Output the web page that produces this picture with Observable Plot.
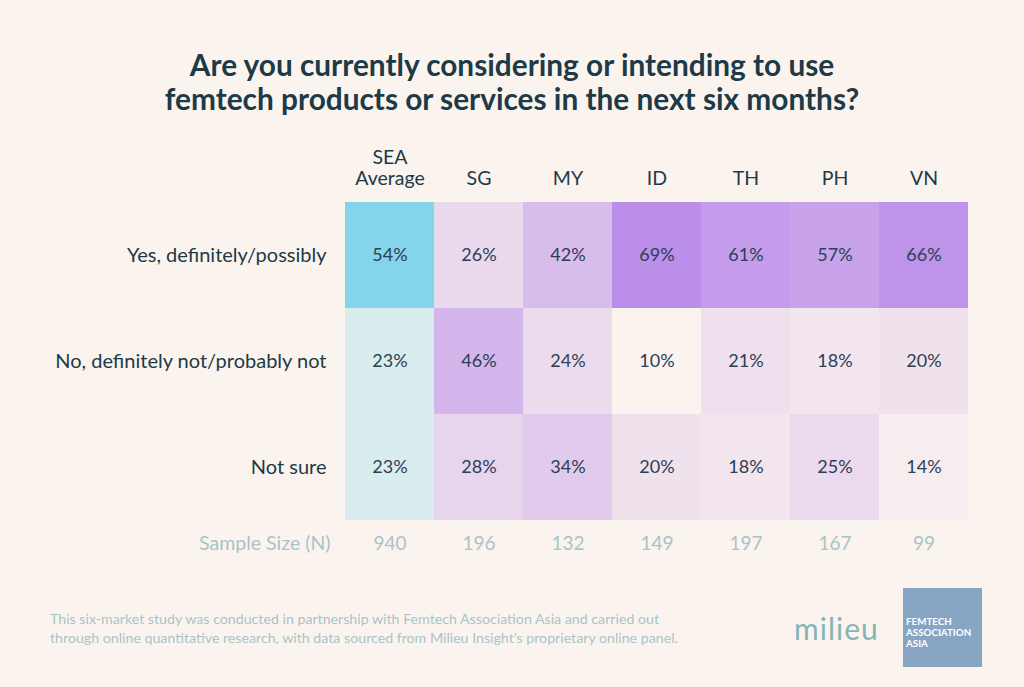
<!DOCTYPE html>
<html>
<head>
<meta charset="utf-8">
<script src="https://cdn.jsdelivr.net/npm/d3@7"></script>
<script src="https://cdn.jsdelivr.net/npm/@observablehq/plot@0.6"></script>
<style>
  html, body { margin: 0; padding: 0; background: #fbf4ee; }
  body { width: 1024px; height: 687px; position: relative; overflow: hidden; font-family: Lato, "Open Sans", sans-serif; }
  #title { position: absolute; top: 48px; left: 0; width: 1024px; text-align: center; font-weight: 700; font-size: 29.8px; line-height: 34px; color: #1d3a48; }
  #chart { position: absolute; top: 130px; left: 0; }
  #note { position: absolute; left: 50px; top: 610px; font-size: 14.2px; line-height: 18.5px; color: #a9c4c6; }
  #milieu { position: absolute; left: 794px; top: 610px; font-size: 30px; font-weight: 400; color: #86b4b6; letter-spacing: 1px; font-family: Lato, sans-serif; }
  #fa { position: absolute; left: 903px; top: 588px; width: 79px; height: 79px; background: #87a5c3; }
  #fa div { position: absolute; left: 3px; top: 28px; color: #ffffff; font-weight: 700; font-size: 9.8px; line-height: 11px; }
</style>
</head>
<body>
<div id="title">Are you currently considering or intending to use<br>femtech products or services in the next six months?</div>
<div id="chart"></div>
<div id="note">This six-market study was conducted in partnership with Femtech Association Asia and carried out<br>through online quantitative research, with data sourced from Milieu Insight’s proprietary online panel.</div>
<div id="milieu">milieu</div>
<div id="fa"><div>FEMTECH<br>ASSOCIATION<br>ASIA</div></div>
<script>
const markets = ["SEA", "SG", "MY", "ID", "TH", "PH", "VN"];
const marketLabels = ["SEA\nAverage", "SG", "MY", "ID", "TH", "PH", "VN"];
const responses = ["Yes, definitely/possibly", "No, definitely not/probably not", "Not sure"];
const yesValues = [54, 26, 42, 69, 61, 57, 66];
const noValues = [23, 46, 24, 10, 21, 18, 20];
const notSureValues = [23, 28, 34, 20, 18, 25, 14];
const sampleSizes = [940, 196, 132, 149, 197, 167, 99];

const series = [yesValues, noValues, notSureValues];
const data = [];
responses.forEach((r, i) => markets.forEach((m, j) => data.push({market: m, response: r, value: series[i][j]})));
const countryData = data.filter(d => d.market !== "SEA");
const seaYes = data.filter(d => d.market === "SEA" && d.response === responses[0]);
const seaOther = data.filter(d => d.market === "SEA" && d.response !== responses[0]);
const samples = markets.map((m, j) => ({market: m, n: sampleSizes[j]}));

const textColor = "#2b3f55";
const chart = Plot.plot({
  width: 1024,
  height: 450,
  marginLeft: 344,
  marginRight: 56,
  marginTop: 71,
  marginBottom: 60,
  style: {background: "transparent", fontFamily: "Lato, sans-serif"},
  x: {domain: markets, padding: 0, axis: null},
  y: {domain: responses, padding: 0, axis: null},
  color: {type: "linear", domain: [10, 69], range: ["#fbf3ee", "#bb8eea"], interpolate: "rgb"},
  marks: [
    Plot.cell(countryData, {x: "market", y: "response", fill: "value"}),
    Plot.cell(seaYes, {x: "market", y: "response", fill: "#84d4ec"}),
    Plot.cell(seaOther, {x: "market", y: "response", fill: "#d9ecee"}),
    Plot.text(data, {x: "market", y: "response", text: d => d.value + "%", fill: textColor, fontSize: 18}),
    Plot.axisX({anchor: "top", label: null, tickSize: 0, tickPadding: 17, fontSize: 19.5, color: "#1d3a48",
      tickFormat: m => marketLabels[markets.indexOf(m)], lineHeight: 1.05}),
    Plot.axisY({anchor: "left", label: null, tickSize: 0, tickPadding: 18, fontSize: 20, color: "#1d3a48"}),
    Plot.text(samples, {x: "market", y: () => responses[2], dy: 76, text: d => String(d.n), fill: "#a9c3c6", fontSize: 19}),
    Plot.text(["Sample Size (N)"], {y: () => responses[2], frameAnchor: "left", dx: -14, dy: 76, textAnchor: "end", text: d => d, fill: "#a9c3c6", fontSize: 19.5})
  ]
});
document.getElementById("chart").appendChild(chart);
</script>
</body>
</html>
